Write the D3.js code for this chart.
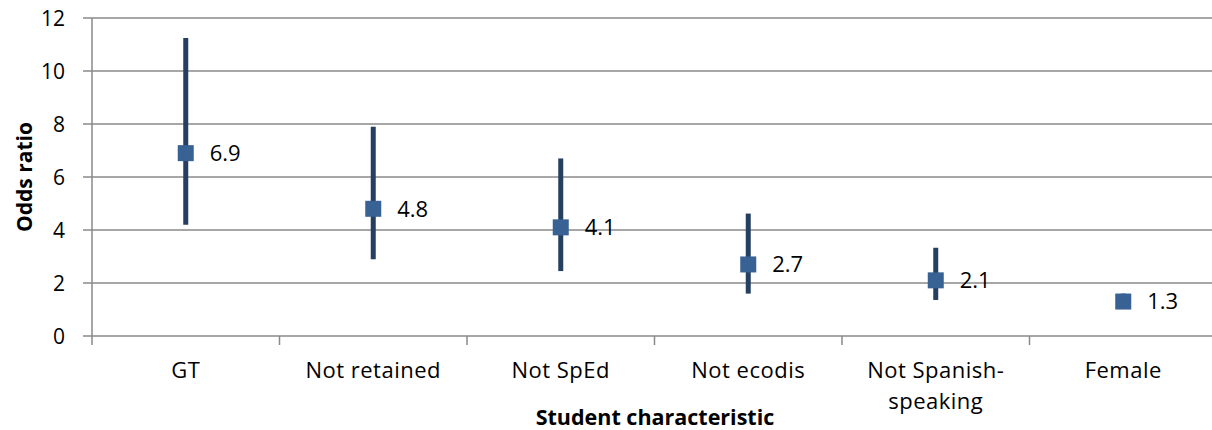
<!DOCTYPE html>
<html><head><meta charset="utf-8">
<script src="https://cdn.jsdelivr.net/npm/d3@7"></script>
<style>body{margin:0;background:#fff}svg{display:block}text{font-family:"Open Sans",sans-serif}</style>
</head><body><svg id="c" width="1212" height="430"></svg>
<script>
const categories = ["GT","Not retained","Not SpEd","Not ecodis","Not Spanish-speaking","Female"];
const oddsRatio = [6.9, 4.8, 4.1, 2.7, 2.1, 1.3];
const ciLower = [4.2, 2.9, 2.45, 1.6, 1.36, 1.2];
const ciUpper = [11.25, 7.9, 6.7, 4.62, 3.33, 1.6];
const yTicks = [0,2,4,6,8,10,12];

(function(){
const svg = d3.select("#c");
const mL = 92, mR = 1217, mT = 18, mB = 336;
const x = d3.scaleBand().domain(categories).range([mL, mR]).padding(0);
const y = d3.scaleLinear().domain([0,12]).range([mB, mT]);
const grid = "#8a8a8a";

svg.append("g").selectAll("line").data(yTicks).join("line")
  .attr("x1", mL-9).attr("x2", mR).attr("y1", d=>y(d)).attr("y2", d=>y(d))
  .attr("stroke", grid).attr("stroke-width", 1.5);
svg.append("line").attr("x1", mL).attr("x2", mL).attr("y1", mT).attr("y2", mB+9)
  .attr("stroke", grid).attr("stroke-width", 1.5);
svg.append("g").selectAll("text").data(yTicks).join("text")
  .attr("x", mL-27).attr("y", d=>y(d)).attr("dy","0.36em").attr("text-anchor","end")
  .attr("font-size", 21).attr("fill","#000").text(d=>d);
const bounds = categories.map(c=>x(c)).concat([mR]);
svg.append("g").selectAll("line").data(bounds.slice(1)).join("line")
  .attr("x1", d=>d).attr("x2", d=>d).attr("y1", mB).attr("y2", mB+9)
  .attr("stroke", grid).attr("stroke-width", 1.5);
svg.append("g").selectAll("text").data(categories).join("text")
  .attr("x", d=>x(d)+x.bandwidth()/2).attr("y", 378).attr("text-anchor","middle")
  .attr("font-size", 22).attr("letter-spacing", 0.5).attr("fill","#000")
  .each(function(d){
    const t = d3.select(this);
    if (d === "Not Spanish-speaking") {
      t.append("tspan").attr("x", x(d)+x.bandwidth()/2).text("Not Spanish-");
      t.append("tspan").attr("x", x(d)+x.bandwidth()/2).attr("dy", 31).text("speaking");
    } else t.text(d);
  });

const cx = d => x(d)+x.bandwidth()/2;
svg.append("g").selectAll("line").data(categories).join("line")
  .attr("x1", cx).attr("x2", cx)
  .attr("y1", (d,i)=>y(ciUpper[i])).attr("y2", (d,i)=>y(ciLower[i]))
  .attr("stroke", "#243f60").attr("stroke-width", 5);
const ms = 16;
svg.append("g").selectAll("rect").data(categories).join("rect")
  .attr("x", d=>cx(d)-ms/2).attr("y", (d,i)=>y(oddsRatio[i])-ms/2)
  .attr("width", ms).attr("height", ms).attr("fill", "#386194");
svg.append("g").selectAll("text").data(categories).join("text")
  .attr("x", d=>cx(d)+24).attr("y", (d,i)=>y(oddsRatio[i])).attr("dy","0.36em")
  .attr("font-size", 22).attr("fill","#000").text((d,i)=>oddsRatio[i].toFixed(1));

svg.append("text").attr("transform", `translate(32,${(mT+mB)/2}) rotate(-90)`)
  .attr("text-anchor","middle").attr("font-size", 21).attr("font-weight","bold").text("Odds ratio");
svg.append("text").attr("x", 655).attr("y", 425).attr("text-anchor","middle")
  .attr("font-size", 21.5).attr("font-weight","bold").text("Student characteristic");
})();
</script></body></html>
